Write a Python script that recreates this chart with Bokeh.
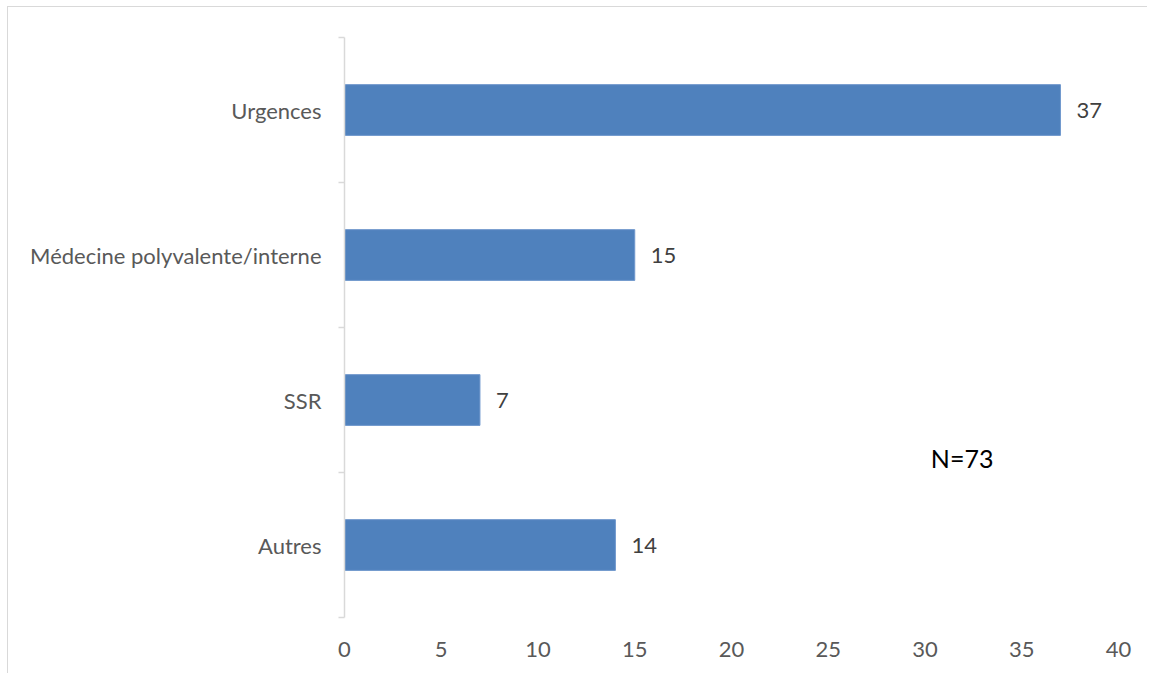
from bokeh.plotting import figure
from bokeh.models import ColumnDataSource, FixedTicker, Range1d, Label, LabelSet
from bokeh.core.properties import value
from bokeh.embed import file_html
from bokeh.resources import INLINE

categories = ["Urgences", "Médecine polyvalente/interne", "SSR", "Autres"]
values = [37, 15, 7, 14]
x_ticks = [0, 5, 10, 15, 20, 25, 30, 35, 40]
note = "N=73"

n = len(categories)
ypos = [n - i - 0.5 for i in range(n)]
src = ColumnDataSource(dict(y=ypos, v=values, cat=categories, lbl=[str(v) for v in values]))

FONT = "Lato"
GRAY = "#595959"

p = figure(width=1140, height=667, output_backend="svg", toolbar_location=None,
           x_range=Range1d(0, 40), y_range=Range1d(0, n),
           min_border_left=336, min_border_right=30, min_border_top=30, min_border_bottom=57)
p.styles = {"border-top": "1px solid #d9d9d9", "border-left": "1px solid #d9d9d9",
            "margin-left": "7px", "margin-top": "6px"}
p.outline_line_color = None
p.xgrid.grid_line_color = None
p.ygrid.grid_line_color = None

p.hbar(y="y", right="v", left=0, height=0.35, source=src,
       fill_color="#4f81bd", line_color="#6f97cc", line_width=1)

labels = LabelSet(x="v", y="y", text="lbl", source=src, x_offset=16, text_baseline="middle",
                  text_font=value(FONT), text_font_size="22px", text_color="#404040")
p.add_layout(labels)

# x axis
xa = p.xaxis[0]
xa.ticker = FixedTicker(ticks=x_ticks)
xa.axis_line_color = None
xa.major_tick_line_color = None
xa.minor_tick_line_color = None
xa.major_label_standoff = 18
xa.major_label_text_font = FONT
xa.major_label_text_font_size = "22px"
xa.major_label_text_color = GRAY

# y axis: labels at centers, tick marks at category boundaries
ya = p.yaxis[0]
ya.ticker = FixedTicker(ticks=ypos, minor_ticks=[float(i) for i in range(n + 1)])
ya.major_label_overrides = {y: c for y, c in zip(ypos, categories)}
ya.axis_line_color = "#d9d9d9"
ya.axis_line_width = 1.5
ya.major_tick_line_color = None
ya.minor_tick_line_color = "#d9d9d9"
ya.minor_tick_line_width = 1.5
ya.minor_tick_out = 6
ya.minor_tick_in = 0
ya.major_label_standoff = 17
ya.major_label_text_font = FONT
ya.major_label_text_font_size = "22px"
ya.major_label_text_color = GRAY

p.add_layout(Label(x=30.3, y=1.1, text=note, text_baseline="middle",
                   text_font=FONT, text_font_size="25px", text_color="black"))

open("out.html", "w").write(file_html(p, INLINE))
